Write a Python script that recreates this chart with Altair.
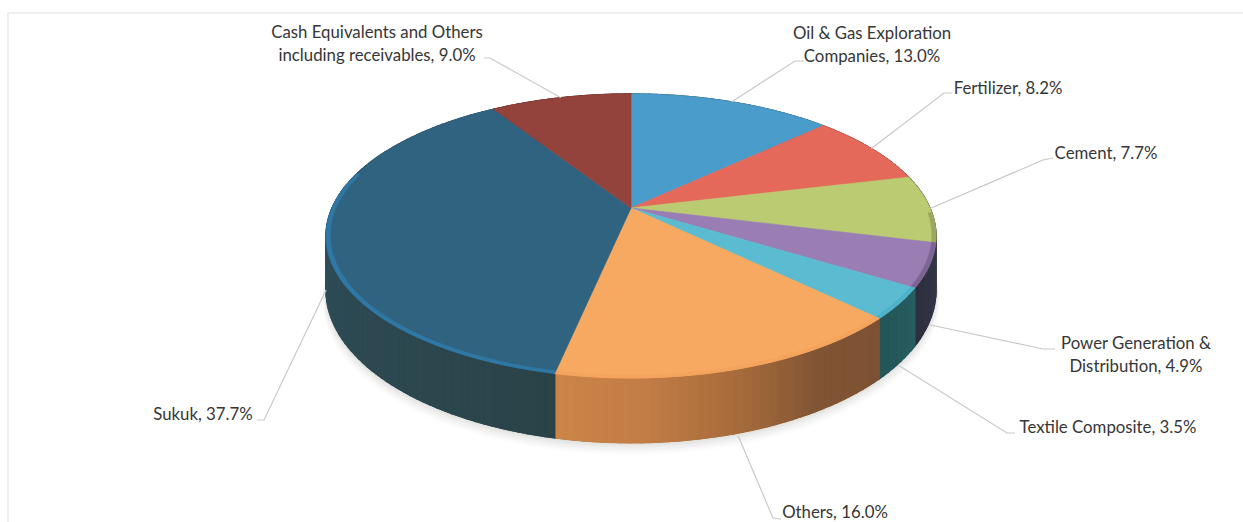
import math
import altair as alt

W, H = 1243, 522

# Portfolio allocation, clockwise from twelve o'clock
categories = [
    "Oil & Gas Exploration\nCompanies",
    "Fertilizer",
    "Cement",
    "Power Generation &\nDistribution",
    "Textile Composite",
    "Others",
    "Sukuk",
    "Cash Equivalents and Others\nincluding receivables",
]
values = [13.0, 8.2, 7.7, 4.9, 3.5, 16.0, 37.7, 9.0]

top_colors = ["#4a9ccb", "#e4695b", "#bbcb72", "#9a7eb3", "#5bbcd1", "#f7a961", "#30637f", "#93433c"]
rim_colors = ["#4a9ccb", "#e4695b", "#9aa860", "#7d6593", "#4fb2ca", "#f4a45c", "#2f78a6", "#93433c"]
# Side wall shading, running clockwise through each slice
wall_colors = [
    ["#3a6f8f"],
    ["#a04a40"],
    ["#6a6d55", "#3f4040"],
    ["#33384a", "#2d2f3e"],
    ["#285e62", "#235557"],
    ["#7d5232", "#805434", "#a66b3b", "#c27c45", "#cb8549"],
    ["#2a4349", "#2d4850", "#2e4c58", "#2d5468", "#2f5a72"],
    ["#6a302b"],
]

# Label placement: text anchor rows and the elbow of each leader line
label_x = [872, 1008, 1106, 1136, 1108, 835, 203, 377]
label_y = [34, 89, 154, 344, 428, 513, 415, 33]
elbow = [(795, 61), (944, 93), (1043, 160), (1043, 349), (1007, 433), (773, 518), (264, 420), (490, 58)]
tip = [(804, 61), (952, 93), (1053, 158), (1055, 349), (1015, 433), (781, 519), (257, 420), (484, 58)]
line_gap = 22.5

# Perspective view of the disc
cx, cy, ax, by, persp, depth = 631, 208, 299, 136.5, 0.197, 52


def top(deg, r=1.0):
    t = math.radians(deg)
    w = 1 + persp * r * math.cos(t)
    return (cx + ax * r * math.sin(t) / w, cy - by * r * math.cos(t) / w)


def bottom(deg, drop=0.0, grow=1.0):
    t = math.radians(deg)
    w = 1 + persp * math.cos(t)
    return (cx + ax * grow * math.sin(t) / w, cy - by * grow * math.cos(t) / w + depth / w + drop)


def blend(stops, f):
    if len(stops) == 1:
        return stops[0]
    pos = min(max(f, 0), 1) * (len(stops) - 1)
    i = min(int(pos), len(stops) - 2)
    k = pos - i
    a = [int(stops[i][j:j + 2], 16) for j in (1, 3, 5)]
    b = [int(stops[i + 1][j:j + 2], 16) for j in (1, 3, 5)]
    return "#%02x%02x%02x" % tuple(round(p + (q - p) * k) for p, q in zip(a, b))


def feature(ring, color, opacity=1.0):
    ring = [list(p) for p in ring]
    ring.append(ring[0])
    return {
        "type": "Feature",
        "geometry": {"type": "Polygon", "coordinates": [ring]},
        "properties": {"c": color, "o": opacity},
    }


edges = [0.0]
for v in values:
    edges.append(edges[-1] + v * 3.6)


def sweep(a, b, step=1.0):
    n = max(1, math.ceil((b - a) / step))
    return [a + (b - a) * i / n for i in range(n + 1)]


shadow, walls, bands, faces, rims = [], [], [], [], []

# Soft cast shadow under the front of the disc
for drop, grow, op in [(10, 1.012, 0.02), (8, 1.01, 0.03), (6, 1.008, 0.04), (4, 1.005, 0.05), (2, 1.003, 0.06)]:
    ring = [bottom(d, drop, grow) for d in sweep(60, 300, 2)]
    shadow.append(feature(ring, "#6f6f60", op))

for i, (a, b) in enumerate(zip(edges[:-1], edges[1:])):
    angles = sweep(a, b)
    # One solid wall per slice, with overlapping shaded bands on top of it
    walls.append(feature([top(d) for d in angles] + [bottom(d) for d in reversed(angles)],
                         blend(wall_colors[i], 0.5)))
    coarse = sweep(a, b, 1.5)
    for p, q in zip(coarse[:-1], coarse[1:]):
        ring = [top(p), top(q), bottom(q), bottom(p)]
        bands.append(feature(ring, blend(wall_colors[i], ((p + q) / 2 - a) / (b - a))))
    faces.append(feature([(cx, cy)] + [top(d) for d in angles], top_colors[i]))
    lo, hi = max(a, 92), min(b, 285)
    if hi > lo:
        arc = sweep(lo, hi)
        rims.append(feature([top(d) for d in arc] + [top(d, 0.987) for d in reversed(arc)], rim_colors[i]))


def shapes(rows, stroke_width=0.7):
    mark = alt.Chart(alt.Data(values=rows)).mark_geoshape(strokeWidth=stroke_width)
    enc = dict(
        fill=alt.Fill("properties.c:N", scale=None, legend=None),
        opacity=alt.Opacity("properties.o:Q", scale=None, legend=None),
    )
    if stroke_width:
        enc["stroke"] = alt.Stroke("properties.c:N", scale=None, legend=None)
    return mark.encode(**enc).project(type="identity", scale=1, translate=[0, 0])


xs = alt.Scale(domain=[0, W], range=[0, W])
ys = alt.Scale(domain=[0, H], range=[0, H])
X = alt.X("x:Q", scale=xs, axis=None)
Y = alt.Y("y:Q", scale=ys, axis=None)

# Leader lines run from the middle of each slice's edge through an elbow to the label
leader_rows, text_rows = [], []
for i, name in enumerate(categories):
    mid = (edges[i] + edges[i + 1]) / 2
    start = bottom(mid, 3) if 100 < mid < 290 else top(mid)
    for k, pt in enumerate([start, elbow[i], tip[i]]):
        leader_rows.append({"s": name, "k": k, "x": pt[0], "y": pt[1]})
    lines = f"{name}, {values[i]:.1f}%".split("\n")
    for n, line in enumerate(lines):
        text_rows.append({"t": line, "x": label_x[i], "y": label_y[i] + n * line_gap})

leaders = alt.Chart(alt.Data(values=leader_rows)).mark_line(
    color="#c9c9c9", strokeWidth=1.2
).encode(x=X, y=Y, detail="s:N", order="k:Q")

labels = alt.Chart(alt.Data(values=text_rows)).mark_text(
    font="Lato", fontSize=16.8, color="#363636", align="center", baseline="middle"
).encode(x=X, y=Y, text="t:N")

frame_rows = [
    {"s": "top", "k": 0, "x": 8, "y": 13},
    {"s": "top", "k": 1, "x": W, "y": 13},
    {"s": "left", "k": 0, "x": 8, "y": 13},
    {"s": "left", "k": 1, "x": 8, "y": H},
]
frame = alt.Chart(alt.Data(values=frame_rows)).mark_line(
    color="#efefef", strokeWidth=2
).encode(x=X, y=Y, detail="s:N", order="k:Q")

chart = alt.layer(
    frame, shapes(shadow, 0), shapes(walls, 1), shapes(bands, 1.4), shapes(faces), shapes(rims), leaders, labels
).properties(
    width=W, height=H, padding=0, autosize=alt.AutoSizeParams(type="none"), background="white"
).configure_view(stroke=None)

chart.save("out.html", embed_options={"renderer": "svg", "actions": False})
